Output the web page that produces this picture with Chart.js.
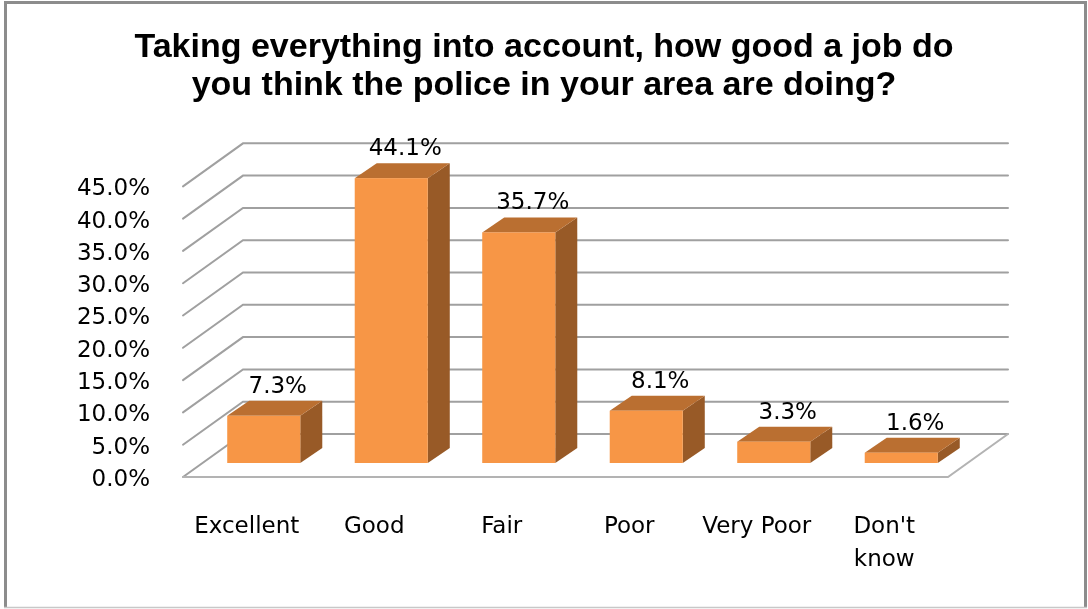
<!DOCTYPE html>
<html>
<head>
<meta charset="utf-8">
<script src="https://cdn.jsdelivr.net/npm/chart.js@4"></script>
<style>
  html, body { margin: 0; padding: 0; background: #fff; }
  #wrap { width: 1088px; height: 609px; }
</style>
</head>
<body>
<div id="wrap"><canvas id="c" width="1088" height="609"></canvas></div>
<script>
// Survey answers and their shares (percent of respondents)
const categories = ['Excellent', 'Good', 'Fair', 'Poor', 'Very Poor', ["Don't", 'know']];
const shares = [7.3, 44.1, 35.7, 8.1, 3.3, 1.6];
const axisMin = 0;
const axisMax = 45;
const axisStep = 5;
const titleLines = [
  'Taking everything into account, how good a job do',
  'you think the police in your area are doing?'
];

// Oblique projection used for the 3D look
const WALL = { dx: 60, dy: -43 };      // floor front edge -> back wall
const BAR_FRONT = { dx: 17, dy: -14 }; // floor front edge -> bar front face
const BAR_DEPTH = { dx: 22, dy: -15 }; // bar front face -> bar back face

const FACE = '#F79646';
const TOP = '#BA6F31';
const SIDE = '#985A27';
const LABEL_FONT = '23px "DejaVu Sans", sans-serif';

const depthPlugin = {
  id: 'depth3d',
  beforeDraw(chart) {
    const { ctx, width, height } = chart;
    ctx.save();
    ctx.fillStyle = '#fff';
    ctx.fillRect(0, 0, width, height);
    // outer frame
    ctx.strokeStyle = '#8c8c8c';
    ctx.lineWidth = 3;
    ctx.beginPath();
    ctx.moveTo(5.5, 607);
    ctx.lineTo(5.5, 2.5);
    ctx.lineTo(1085.5, 2.5);
    ctx.lineTo(1085.5, 607);
    ctx.stroke();
    ctx.strokeStyle = '#c8c8c8';
    ctx.lineWidth = 1.5;
    ctx.beginPath();
    ctx.moveTo(4, 607.5);
    ctx.lineTo(1087, 607.5);
    ctx.stroke();
    ctx.restore();
  },
  beforeDatasetsDraw(chart) {
    const { ctx, chartArea: a, scales: { y } } = chart;
    ctx.save();
    ctx.lineCap = 'round';
    // side-wall diagonals and back-wall gridlines
    ctx.strokeStyle = '#a0a0a0';
    ctx.lineWidth = 2;
    y.ticks.forEach(t => {
      const yf = y.getPixelForValue(t.value);
      ctx.beginPath();
      ctx.moveTo(a.left, yf);
      ctx.lineTo(a.left + WALL.dx, yf + WALL.dy);
      ctx.lineTo(a.right + WALL.dx, yf + WALL.dy);
      ctx.stroke();
    });
    // floor front edge and right edge
    const y0 = y.getPixelForValue(axisMin);
    ctx.strokeStyle = '#b3b3b3';
    ctx.beginPath();
    ctx.moveTo(a.left, y0);
    ctx.lineTo(a.right, y0);
    ctx.lineTo(a.right + WALL.dx, y0 + WALL.dy);
    ctx.stroke();
    ctx.restore();
  },
  afterDatasetsDraw(chart) {
    const { ctx } = chart;
    const meta = chart.getDatasetMeta(0);
    ctx.save();
    meta.data.forEach((bar, i) => {
      const { x, y, base, width } = bar.getProps(['x', 'y', 'base', 'width'], true);
      const x0 = x - width / 2 + BAR_FRONT.dx;
      const x1 = x + width / 2 + BAR_FRONT.dx;
      const yt = y + BAR_FRONT.dy;
      const yb = base + BAR_FRONT.dy;
      // side face
      ctx.fillStyle = SIDE;
      ctx.beginPath();
      ctx.moveTo(x1, yt);
      ctx.lineTo(x1 + BAR_DEPTH.dx, yt + BAR_DEPTH.dy);
      ctx.lineTo(x1 + BAR_DEPTH.dx, yb + BAR_DEPTH.dy);
      ctx.lineTo(x1, yb);
      ctx.closePath();
      ctx.fill();
      // top face
      ctx.fillStyle = TOP;
      ctx.beginPath();
      ctx.moveTo(x0, yt);
      ctx.lineTo(x1, yt);
      ctx.lineTo(x1 + BAR_DEPTH.dx, yt + BAR_DEPTH.dy);
      ctx.lineTo(x0 + BAR_DEPTH.dx, yt + BAR_DEPTH.dy);
      ctx.closePath();
      ctx.fill();
      // front face
      ctx.fillStyle = FACE;
      ctx.fillRect(x0, yt, x1 - x0, yb - yt);
      // value label
      ctx.fillStyle = '#000';
      ctx.font = LABEL_FONT;
      ctx.textAlign = 'center';
      ctx.textBaseline = 'middle';
      ctx.fillText(shares[i].toFixed(1) + '%', (x0 + x1) / 2 + 14, yt - 29);
    });
    ctx.restore();
  }
};

new Chart(document.getElementById('c'), {
  type: 'bar',
  data: {
    labels: categories,
    datasets: [{
      data: shares,
      backgroundColor: 'rgba(0,0,0,0)',
      borderWidth: 0,
      barPercentage: 0.573,
      categoryPercentage: 1
    }]
  },
  options: {
    responsive: false,
    animation: false,
    layout: { padding: 0 },
    plugins: {
      legend: { display: false },
      tooltip: { enabled: false },
      title: {
        display: true,
        text: titleLines,
        color: '#000',
        font: { family: '"Liberation Sans", sans-serif', size: 34, weight: 'bold', lineHeight: 1.118 },
        padding: { top: 29, bottom: 81.3 }
      }
    },
    scales: {
      x: {
        grid: { display: false },
        border: { display: false },
        ticks: {
          color: '#000',
          padding: 26,
          maxRotation: 0,
          autoSkip: false,
          font: { family: '"DejaVu Sans", sans-serif', size: 23, lineHeight: 1.43 }
        },
        afterFit(scale) { scale.height = 132; }
      },
      y: {
        min: axisMin,
        max: axisMax,
        grid: { display: false },
        border: { display: false },
        ticks: {
          stepSize: axisStep,
          color: '#000',
          padding: 25,
          labelOffset: 3,
          font: { family: '"DejaVu Sans", sans-serif', size: 23 },
          callback: v => Number(v).toFixed(1) + '%'
        },
        afterFit(scale) { scale.width = 183; }
      },
      // empty right-hand axis reserving room for the depth of the back wall
      depth: {
        position: 'right',
        min: axisMin,
        max: axisMax,
        grid: { display: false },
        border: { display: false },
        ticks: { display: false },
        afterFit(scale) { scale.width = 140; }
      }
    }
  },
  plugins: [depthPlugin]
});
</script>
</body>
</html>
